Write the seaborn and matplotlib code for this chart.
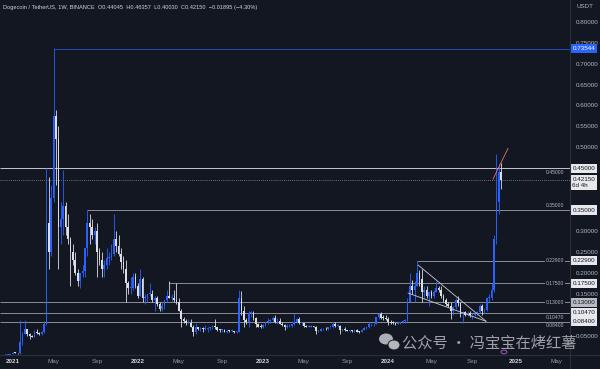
import matplotlib
matplotlib.use("Agg")
import matplotlib.pyplot as plt
import matplotlib.dates as mdates
import matplotlib.transforms as mtransforms
from matplotlib.lines import Line2D
from matplotlib.patches import Ellipse, Circle
import numpy as np
import pandas as pd
import seaborn as sns

# weekly DOGE/USDT candles, first week starting 2020-12-14
first_week = "2020-12-14"
first_open = 0.0036

highs = [
    # 2020
    0.0049, 0.0058, 0.0057,
    # 2021
    0.0105, 0.0100, 0.0092, 0.0870, 0.0580, 0.0870, 0.0660, 0.0565, 0.0520, 0.0640,
    0.0660, 0.0600, 0.0620, 0.0850, 0.4500, 0.4300, 0.4100, 0.7376, 0.5900, 0.5500,
    0.3700, 0.4450, 0.3700, 0.3400, 0.2850, 0.2700, 0.2500, 0.2100, 0.2000, 0.2200,
    0.2600, 0.3500, 0.3400, 0.3300, 0.3100, 0.3200, 0.2600, 0.2500, 0.2300, 0.2600,
    0.2500, 0.2700, 0.3400, 0.3000, 0.2900, 0.2600, 0.2400, 0.2300, 0.1800, 0.1900,
    0.2000, 0.2000,
    # 2022
    0.175, 0.210, 0.190, 0.150, 0.150, 0.175, 0.160, 0.145, 0.145, 0.130, 0.130, 0.135,
    0.160, 0.180, 0.150, 0.160, 0.175, 0.140, 0.115, 0.095, 0.090, 0.090, 0.090, 0.075,
    0.080, 0.070, 0.072, 0.070, 0.075, 0.072, 0.072, 0.075, 0.090, 0.072, 0.066, 0.066,
    0.065, 0.063, 0.064, 0.065, 0.062, 0.061, 0.160, 0.158, 0.120, 0.092, 0.110, 0.110,
    0.110, 0.095, 0.081, 0.078,
    # 2023
    0.077, 0.085, 0.092, 0.090, 0.096, 0.099, 0.092, 0.093, 0.084, 0.079, 0.078, 0.079,
    0.078, 0.105, 0.093, 0.094, 0.083, 0.081, 0.075, 0.075, 0.075, 0.074, 0.073, 0.064,
    0.068, 0.068, 0.070, 0.072, 0.072, 0.082, 0.082, 0.077, 0.076, 0.065, 0.070, 0.064,
    0.064, 0.064, 0.065, 0.065, 0.061, 0.065, 0.070, 0.071, 0.083, 0.081, 0.081, 0.095,
    0.105, 0.107, 0.100, 0.100,
    # 2024
    0.094, 0.088, 0.086, 0.081, 0.082, 0.084, 0.087, 0.091, 0.140, 0.200, 0.183, 0.180,
    0.229, 0.206, 0.210, 0.170, 0.170, 0.155, 0.160, 0.160, 0.180, 0.170, 0.170, 0.150,
    0.140, 0.130, 0.130, 0.120, 0.140, 0.145, 0.130, 0.110, 0.110, 0.110, 0.110, 0.100,
    0.105, 0.110, 0.125, 0.125, 0.116, 0.140, 0.150, 0.175, 0.290, 0.4843, 0.460, 0.46357,
]

lows = [
    # 2020
    0.0035, 0.0040, 0.0045,
    # 2021
    0.0055, 0.0076, 0.0073, 0.0075, 0.0270, 0.0530, 0.0495, 0.0420, 0.0465, 0.0465,
    0.0535, 0.0510, 0.0520, 0.0560, 0.0760, 0.2100, 0.2400, 0.3700, 0.4100, 0.2100,
    0.2700, 0.2900, 0.2900, 0.2700, 0.1700, 0.2200, 0.1950, 0.1700, 0.1650, 0.1900,
    0.1900, 0.2400, 0.2700, 0.2800, 0.2700, 0.1900, 0.2200, 0.1900, 0.1900, 0.2100,
    0.2200, 0.2300, 0.2400, 0.2500, 0.2400, 0.2100, 0.2000, 0.1300, 0.1500, 0.1500,
    0.1600, 0.1650,
    # 2022
    0.140, 0.145, 0.130, 0.125, 0.130, 0.145, 0.130, 0.110, 0.120, 0.110, 0.110, 0.115,
    0.130, 0.140, 0.130, 0.130, 0.125, 0.110, 0.070, 0.080, 0.075, 0.078, 0.070, 0.050,
    0.055, 0.063, 0.062, 0.058, 0.063, 0.060, 0.063, 0.065, 0.067, 0.061, 0.060, 0.060,
    0.058, 0.056, 0.058, 0.060, 0.057, 0.057, 0.058, 0.100, 0.070, 0.079, 0.070, 0.095,
    0.088, 0.072, 0.070, 0.068,
    # 2023
    0.068, 0.073, 0.079, 0.080, 0.085, 0.080, 0.077, 0.077, 0.073, 0.063, 0.068, 0.071,
    0.070, 0.075, 0.080, 0.078, 0.076, 0.072, 0.070, 0.071, 0.071, 0.070, 0.055, 0.058,
    0.061, 0.064, 0.064, 0.063, 0.068, 0.069, 0.070, 0.071, 0.055, 0.061, 0.061, 0.061,
    0.059, 0.060, 0.060, 0.060, 0.057, 0.058, 0.063, 0.066, 0.069, 0.073, 0.074, 0.078,
    0.089, 0.090, 0.087, 0.088,
    # 2024
    0.075, 0.077, 0.079, 0.075, 0.077, 0.078, 0.081, 0.081, 0.085, 0.130, 0.150, 0.130,
    0.170, 0.170, 0.130, 0.140, 0.140, 0.120, 0.140, 0.140, 0.155, 0.155, 0.140, 0.130,
    0.120, 0.118, 0.090, 0.100, 0.115, 0.120, 0.095, 0.080, 0.097, 0.097, 0.095, 0.090,
    0.097, 0.099, 0.105, 0.100, 0.105, 0.110, 0.130, 0.135, 0.155, 0.270, 0.340, 0.40030,
]

closes = [
    # 2020
    0.0045, 0.0046, 0.0057,
    # 2021
    0.0095, 0.0090, 0.0077, 0.0345, 0.0535, 0.0660, 0.0530, 0.0505, 0.0480, 0.0580,
    0.0570, 0.0540, 0.0580, 0.0780, 0.3200, 0.2500, 0.3800, 0.5750, 0.5200, 0.3100,
    0.3300, 0.3600, 0.3100, 0.2800, 0.2500, 0.2300, 0.2000, 0.1800, 0.2000, 0.2050,
    0.2600, 0.3200, 0.3100, 0.2900, 0.3000, 0.2500, 0.2300, 0.2100, 0.2200, 0.2350,
    0.2350, 0.2450, 0.2800, 0.2650, 0.2450, 0.2250, 0.2100, 0.1750, 0.1650, 0.1650,
    0.1900, 0.1700,
    # 2022
    0.145, 0.185, 0.140, 0.140, 0.150, 0.150, 0.135, 0.140, 0.125, 0.115, 0.120, 0.135,
    0.145, 0.140, 0.140, 0.135, 0.130, 0.110, 0.090, 0.085, 0.080, 0.080, 0.070, 0.060,
    0.070, 0.066, 0.068, 0.066, 0.066, 0.069, 0.070, 0.073, 0.070, 0.064, 0.063, 0.063,
    0.060, 0.062, 0.061, 0.061, 0.059, 0.059, 0.140, 0.110, 0.087, 0.083, 0.105, 0.105,
    0.092, 0.077, 0.071, 0.070,
    # 2023
    0.076, 0.084, 0.085, 0.088, 0.092, 0.082, 0.085, 0.079, 0.075, 0.070, 0.073, 0.074,
    0.077, 0.082, 0.090, 0.080, 0.080, 0.074, 0.072, 0.072, 0.073, 0.072, 0.061, 0.062,
    0.065, 0.067, 0.065, 0.070, 0.070, 0.078, 0.073, 0.074, 0.063, 0.064, 0.063, 0.062,
    0.062, 0.061, 0.063, 0.060, 0.059, 0.064, 0.068, 0.070, 0.077, 0.077, 0.079, 0.094,
    0.102, 0.093, 0.092, 0.090,
    # 2024
    0.082, 0.081, 0.080, 0.079, 0.080, 0.083, 0.086, 0.086, 0.131, 0.170, 0.160, 0.170,
    0.200, 0.186, 0.155, 0.160, 0.145, 0.155, 0.145, 0.155, 0.165, 0.160, 0.145, 0.135,
    0.125, 0.120, 0.110, 0.118, 0.135, 0.128, 0.105, 0.106, 0.100, 0.105, 0.100, 0.100,
    0.103, 0.107, 0.120, 0.110, 0.112, 0.140, 0.140, 0.160, 0.280, 0.370, 0.44045, 0.42150,
]

# horizontal levels drawn on the chart
level_values = [0.73544, 0.45, 0.35, 0.229, 0.175, 0.13, 0.1047, 0.084]
level_texts = ["0.73544", "0.45000", "0.35000", "0.22900", "0.17500", "0.13000", "0.10470", "0.08400"]
level_starts = ["2021-05-03", None, "2021-08-09", "2024-03-25", "2022-04-04", None, None, None]
last_price = 0.42150

price_ticks = [0.05, 0.15, 0.20, 0.25, 0.30, 0.50, 0.55, 0.60, 0.65, 0.70, 0.75, 0.80]
time_ticks = ["2021-01-04", "2021-05-03", "2021-09-06", "2022-01-03", "2022-05-02", "2022-09-05",
              "2023-01-02", "2023-05-01", "2023-09-04", "2024-01-01", "2024-05-06", "2024-09-02",
              "2025-01-06", "2025-05-05"]
time_labels = ["2021", "May", "Sep", "2022", "May", "Sep", "2023", "May", "Sep",
               "2024", "May", "Sep", "2025", "May"]

# drawn trend lines (falling wedge + breakout line)
wedge_upper_dates = ["2024-03-28", "2024-10-12"]
wedge_upper_values = [0.219, 0.0845]
wedge_lower_dates = ["2024-02-28", "2024-10-12"]
wedge_lower_values = [0.152, 0.0845]
trend_dates = ["2024-11-01", "2024-12-15"]
trend_values = [0.424, 0.498]

header = "Dogecoin / TetherUS, 1W, BINANCE  O0.44045  H0.46357  L0.40030  C0.42150  \u22120.01895 (\u22124.30%)"
watermark = "公众号 · 冯宝宝在烤红薯"

BG = "#131722"
UP = "#2962ff"
DOWN = "#dcdee3"
GRID = "#2a2e39"
TXT = "#b2b5be"

sns.set_theme(style="dark")
plt.rcParams["font.family"] = ["Liberation Sans", "Noto Sans CJK SC", "DejaVu Sans"]


def build_frame():
    dates = pd.date_range(first_week, periods=len(closes), freq="7D")
    opens = [first_open] + closes[:-1]
    df = pd.DataFrame({"date": dates, "open": opens, "high": highs, "low": lows, "close": closes})
    df["x"] = mdates.date2num(df["date"])
    df["up"] = df["close"] >= df["open"]
    return df


def draw_candles(ax, df):
    colors = np.where(df["up"], UP, DOWN)
    top = np.maximum(df["open"], df["close"])
    bottom = np.minimum(df["open"], df["close"])
    ax.vlines(df["x"], np.minimum(df["low"], bottom), np.maximum(df["high"], top),
              colors=colors, linewidth=0.6, zorder=3)
    ax.bar(df["x"], np.maximum(top - bottom, 0.0022), bottom=bottom, width=4.8,
           color=colors, linewidth=0, zorder=4)


def main():
    df = build_frame()
    fig = plt.figure(figsize=(6, 3.69), dpi=100)
    fig.patch.set_facecolor(BG)
    ax = fig.add_axes([0, 14 / 369, 570 / 600, 355 / 369])
    ax.set_facecolor(BG)

    x_left = mdates.date2num(pd.Timestamp("2020-11-28"))
    x_right = mdates.date2num(pd.Timestamp("2025-06-13"))
    ax.set_xlim(x_left, x_right)
    ax.set_ylim(0.004, 0.852)

    draw_candles(ax, df)

    blend = mtransforms.blended_transform_factory(ax.transAxes, ax.transData)

    # level lines
    for val, txt, start in zip(level_values, level_texts, level_starts):
        x0 = mdates.date2num(pd.Timestamp(start)) if start else x_left
        if txt == "0.73544":
            ax.hlines(val, x0, x_right, color=UP, linewidth=0.6, alpha=0.8, zorder=2)
            ax.text(1.004, val, txt, transform=blend, ha="left", va="center", fontsize=4.5,
                    color="white", clip_on=False,
                    bbox=dict(boxstyle="square,pad=0.35", fc=UP, ec="none"))
            continue
        lc = "#c4c6cc" if txt == "0.45000" else "#8a8d96"
        ax.hlines(val, x0, x_right, color=lc, linewidth=0.7, zorder=2)
        if txt in ("0.22900", "0.17500", "0.13000"):
            ax.text(0.99, val, txt, transform=blend, ha="right", va="center", fontsize=3.6,
                    color=TXT, zorder=5, bbox=dict(boxstyle="square,pad=0.15", fc=BG, ec="none"))
        elif txt == "0.35000":
            ax.text(0.99, val + 0.004, txt, transform=blend, ha="right", va="bottom",
                    fontsize=3.6, color=TXT, zorder=5)
        else:
            ax.text(0.99, val - 0.004, txt, transform=blend, ha="right", va="top",
                    fontsize=3.6, color=TXT, zorder=5)
        fc = "#b8bbc2" if txt == "0.13000" else "#e6e8ec"
        ax.text(1.004, val, txt, transform=blend, ha="left", va="center", fontsize=4.5,
                color="#131722", clip_on=False,
                bbox=dict(boxstyle="square,pad=0.35", fc=fc, ec="none"))

    # current price
    ax.axhline(last_price, color="#8a8d96", linewidth=0.6, linestyle=(0, (1, 1.5)), zorder=2)
    ax.text(1.004, last_price + 0.008, "0.42150\n6d 4h", transform=blend, ha="left", va="top",
            fontsize=4.5, color="#131722", clip_on=False, linespacing=1.3,
            bbox=dict(boxstyle="square,pad=0.35", fc="#e6e8ec", ec="none"))

    # drawn trend lines
    sns.lineplot(x=mdates.date2num(pd.to_datetime(wedge_upper_dates)), y=wedge_upper_values,
                 ax=ax, color="#c8cad0", linewidth=0.6, estimator=None, sort=False, zorder=5)
    sns.lineplot(x=mdates.date2num(pd.to_datetime(wedge_lower_dates)), y=wedge_lower_values,
                 ax=ax, color="#c8cad0", linewidth=0.6, estimator=None, sort=False, zorder=5)
    sns.lineplot(x=mdates.date2num(pd.to_datetime(trend_dates)), y=trend_values,
                 ax=ax, color="#e57373", linewidth=0.6, estimator=None, sort=False, zorder=5)

    # price axis on the right
    ax.yaxis.tick_right()
    ax.set_yticks(price_ticks)
    ax.set_yticklabels([f"{v:.5f}" for v in price_ticks])
    ax.tick_params(axis="y", length=0, pad=4, labelsize=4.5, labelcolor=TXT)

    # time axis
    ax.set_xticks(mdates.date2num(pd.to_datetime(time_ticks)))
    ax.set_xticklabels(time_labels)
    ax.tick_params(axis="x", length=0, pad=3, labelsize=4.5, labelcolor="#9598a1")
    for lab in ax.get_xticklabels():
        if lab.get_text().isdigit():
            lab.set_color("#d1d4dc")
            lab.set_fontweight("bold")

    ax.set_xlabel("")
    ax.set_ylabel("")
    ax.grid(False)
    for side in ["top", "left", "right", "bottom"]:
        ax.spines[side].set_visible(False)

    fig.add_artist(Line2D([0, 1], [14 / 369, 14 / 369], color=GRID, linewidth=0.8,
                          transform=fig.transFigure))
    fig.add_artist(Line2D([570 / 600, 570 / 600], [0, 1], color=GRID, linewidth=0.8,
                          transform=fig.transFigure))

    fig.text(3 / 600, 1 - 8 / 369, header, fontsize=4.1, color="#d1d4dc", va="center")
    fig.text(585 / 600, 1 - 7 / 369, "USDT", fontsize=4.5, color=TXT, ha="center", va="center")

    # watermark
    fig.add_artist(Ellipse((386 / 600, 1 - 339 / 369), 14 / 600, 11 / 369, fc="#c9cacd",
                           ec="none", alpha=0.85, transform=fig.transFigure))
    fig.add_artist(Ellipse((394 / 600, 1 - 345 / 369), 12 / 600, 10 / 369, fc="#c9cacd",
                           ec=BG, lw=0.8, alpha=0.9, transform=fig.transFigure))
    fig.add_artist(Circle((504 / 600, 1 - 352 / 369), 3 / 600, fc="none", ec="#9c5cc0",
                          lw=0.7, transform=fig.transFigure))
    fig.text(402 / 600, 1 - 343 / 369, watermark, fontsize=11, color="#c4c5c9", alpha=0.8,
             va="center", family=["Noto Sans CJK SC", "DejaVu Sans"])

    fig.savefig("out.png", dpi=100, facecolor=BG)


if __name__ == "__main__":
    main()
